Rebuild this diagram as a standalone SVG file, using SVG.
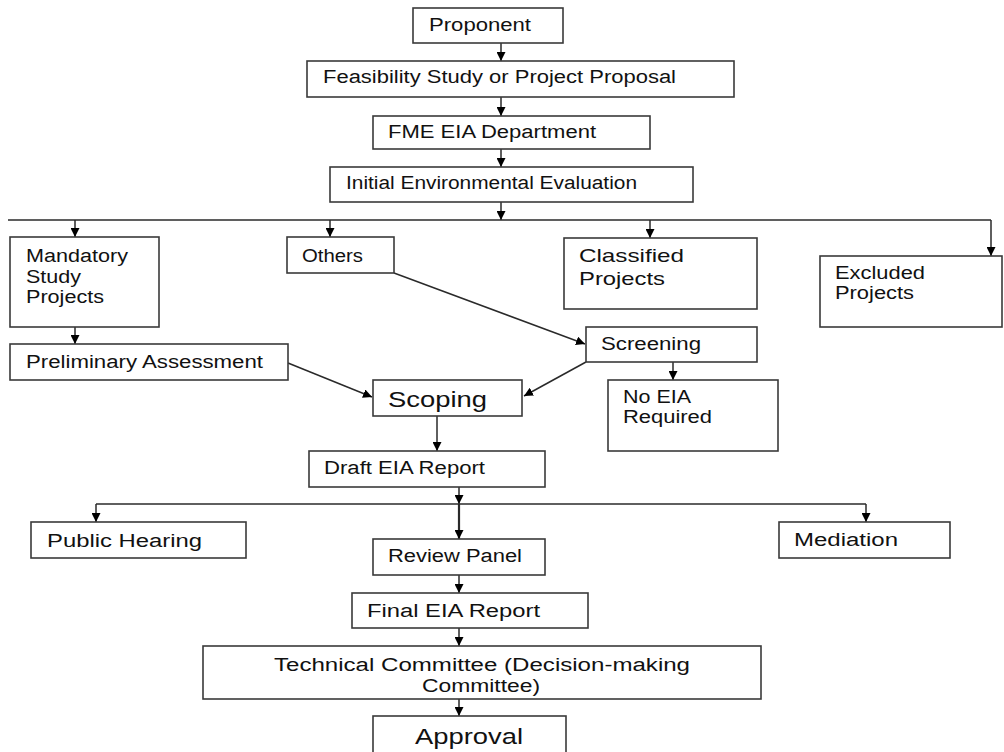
<svg xmlns="http://www.w3.org/2000/svg" width="1004" height="752" viewBox="0 0 1004 752">
<style>
.box{fill:#fff;stroke:#3a3a3a;stroke-width:1.6}
.t{font-family:"Liberation Sans",Arial,sans-serif;font-size:18px;fill:#111}
.big{font-size:22px}
.c{fill:none;stroke:#2a2a2a;stroke-width:1.5}
.thick{stroke-width:2.2}
</style>
<defs>
<marker id="ah" viewBox="0 0 10 10" refX="10" refY="5" markerWidth="9" markerHeight="9" markerUnits="userSpaceOnUse" orient="auto">
<path d="M0,0 L10,5 L0,10 z" fill="#000"/>
</marker>
</defs>
<rect width="1004" height="752" fill="#fff"/>
<g id="connectors">
<line class="c" x1="501" y1="43" x2="501" y2="61" marker-end="url(#ah)"/>
<line class="c" x1="501" y1="97" x2="501" y2="116" marker-end="url(#ah)"/>
<line class="c" x1="501" y1="149" x2="501" y2="167" marker-end="url(#ah)"/>
<line class="c" x1="501" y1="202" x2="501" y2="220" marker-end="url(#ah)"/>
<polyline class="c" points="8,220 991,220"/>
<line class="c" x1="75" y1="220" x2="75" y2="237" marker-end="url(#ah)"/>
<line class="c" x1="330" y1="220" x2="330" y2="237" marker-end="url(#ah)"/>
<line class="c" x1="650" y1="220" x2="650" y2="238" marker-end="url(#ah)"/>
<line class="c" x1="991" y1="220" x2="991" y2="256" marker-end="url(#ah)"/>
<line class="c" x1="75" y1="327" x2="75" y2="344" marker-end="url(#ah)"/>
<line class="c" x1="394" y1="273" x2="585" y2="344" marker-end="url(#ah)"/>
<line class="c" x1="288" y1="363" x2="372" y2="397" marker-end="url(#ah)"/>
<line class="c" x1="586" y1="362" x2="524" y2="396" marker-end="url(#ah)"/>
<line class="c" x1="673" y1="362" x2="673" y2="380" marker-end="url(#ah)"/>
<line class="c" x1="437" y1="416" x2="437" y2="451" marker-end="url(#ah)"/>
<line class="c" x1="459" y1="487" x2="459" y2="504" marker-end="url(#ah)"/>
<polyline class="c" points="96,504 866,504"/>
<line class="c" x1="96" y1="504" x2="96" y2="522" marker-end="url(#ah)"/>
<line class="c thick" x1="459" y1="504" x2="459" y2="539" marker-end="url(#ah)"/>
<line class="c" x1="866" y1="504" x2="866" y2="522" marker-end="url(#ah)"/>
<line class="c" x1="459" y1="575" x2="459" y2="593" marker-end="url(#ah)"/>
<line class="c" x1="459" y1="628" x2="459" y2="646" marker-end="url(#ah)"/>
<line class="c" x1="459" y1="699" x2="459" y2="716" marker-end="url(#ah)"/>
</g>
<g id="proponent"><rect class="box" x="413" y="8" width="150" height="35"/><text class="t" x="429" y="31" textLength="102" lengthAdjust="spacingAndGlyphs">Proponent</text></g>
<g id="feasibility"><rect class="box" x="307" y="61" width="427" height="36"/><text class="t" x="323" y="83" textLength="353" lengthAdjust="spacingAndGlyphs">Feasibility Study or Project Proposal</text></g>
<g id="fme"><rect class="box" x="373" y="116" width="277" height="33"/><text class="t" x="388" y="138" textLength="208" lengthAdjust="spacingAndGlyphs">FME EIA Department</text></g>
<g id="iee"><rect class="box" x="330" y="167" width="363" height="35"/><text class="t" x="346" y="189" textLength="291" lengthAdjust="spacingAndGlyphs">Initial Environmental Evaluation</text></g>
<g id="mandatory"><rect class="box" x="10" y="237" width="149" height="90"/>
<text class="t" x="26" y="262" textLength="102" lengthAdjust="spacingAndGlyphs">Mandatory</text>
<text class="t" x="26" y="283" textLength="55" lengthAdjust="spacingAndGlyphs">Study</text>
<text class="t" x="26" y="303" textLength="78" lengthAdjust="spacingAndGlyphs">Projects</text></g>
<g id="others"><rect class="box" x="287" y="237" width="107" height="36"/><text class="t" x="302" y="262" textLength="61" lengthAdjust="spacingAndGlyphs">Others</text></g>
<g id="classified"><rect class="box" x="564" y="238" width="193" height="71"/>
<text class="t" x="579" y="262" style="font-size:19px" textLength="105" lengthAdjust="spacingAndGlyphs">Classified</text>
<text class="t" x="579" y="285" style="font-size:19px" textLength="86" lengthAdjust="spacingAndGlyphs">Projects</text></g>
<g id="excluded"><rect class="box" x="820" y="256" width="182" height="71"/>
<text class="t" x="835" y="279" textLength="90" lengthAdjust="spacingAndGlyphs">Excluded</text>
<text class="t" x="835" y="299" textLength="79" lengthAdjust="spacingAndGlyphs">Projects</text></g>
<g id="preliminary"><rect class="box" x="10" y="344" width="278" height="36"/><text class="t" x="26" y="368" textLength="237" lengthAdjust="spacingAndGlyphs">Preliminary Assessment</text></g>
<g id="screening"><rect class="box" x="586" y="327" width="171" height="35"/><text class="t" x="601" y="350" textLength="100" lengthAdjust="spacingAndGlyphs">Screening</text></g>
<g id="scoping"><rect class="box" x="373" y="380" width="149" height="36"/><text class="t big" x="388" y="407" textLength="99" lengthAdjust="spacingAndGlyphs">Scoping</text></g>
<g id="noeia"><rect class="box" x="608" y="380" width="170" height="71"/>
<text class="t" x="623" y="403" textLength="68" lengthAdjust="spacingAndGlyphs">No EIA</text>
<text class="t" x="623" y="423" textLength="89" lengthAdjust="spacingAndGlyphs">Required</text></g>
<g id="draft"><rect class="box" x="309" y="451" width="236" height="36"/><text class="t" x="324" y="474" textLength="161" lengthAdjust="spacingAndGlyphs">Draft EIA Report</text></g>
<g id="publichearing"><rect class="box" x="31" y="522" width="215" height="36"/><text class="t" x="47" y="547" textLength="155" lengthAdjust="spacingAndGlyphs">Public Hearing</text></g>
<g id="reviewpanel"><rect class="box" x="373" y="539" width="172" height="36"/><text class="t" x="388" y="562" textLength="134" lengthAdjust="spacingAndGlyphs">Review Panel</text></g>
<g id="mediation"><rect class="box" x="779" y="522" width="171" height="36"/><text class="t" x="794" y="546" textLength="104" lengthAdjust="spacingAndGlyphs">Mediation</text></g>
<g id="finaleia"><rect class="box" x="352" y="593" width="236" height="35"/><text class="t" x="367" y="617" textLength="173" lengthAdjust="spacingAndGlyphs">Final EIA Report</text></g>
<g id="technical"><rect class="box" x="203" y="646" width="558" height="53"/>
<text class="t" x="274" y="671" textLength="416" lengthAdjust="spacingAndGlyphs">Technical Committee (Decision-making</text>
<text class="t" x="422" y="692" textLength="118" lengthAdjust="spacingAndGlyphs">Committee)</text></g>
<g id="approval"><rect class="box" x="373" y="716" width="193" height="40"/><text class="t big" x="415" y="744" textLength="108" lengthAdjust="spacingAndGlyphs">Approval</text></g>
</svg>
